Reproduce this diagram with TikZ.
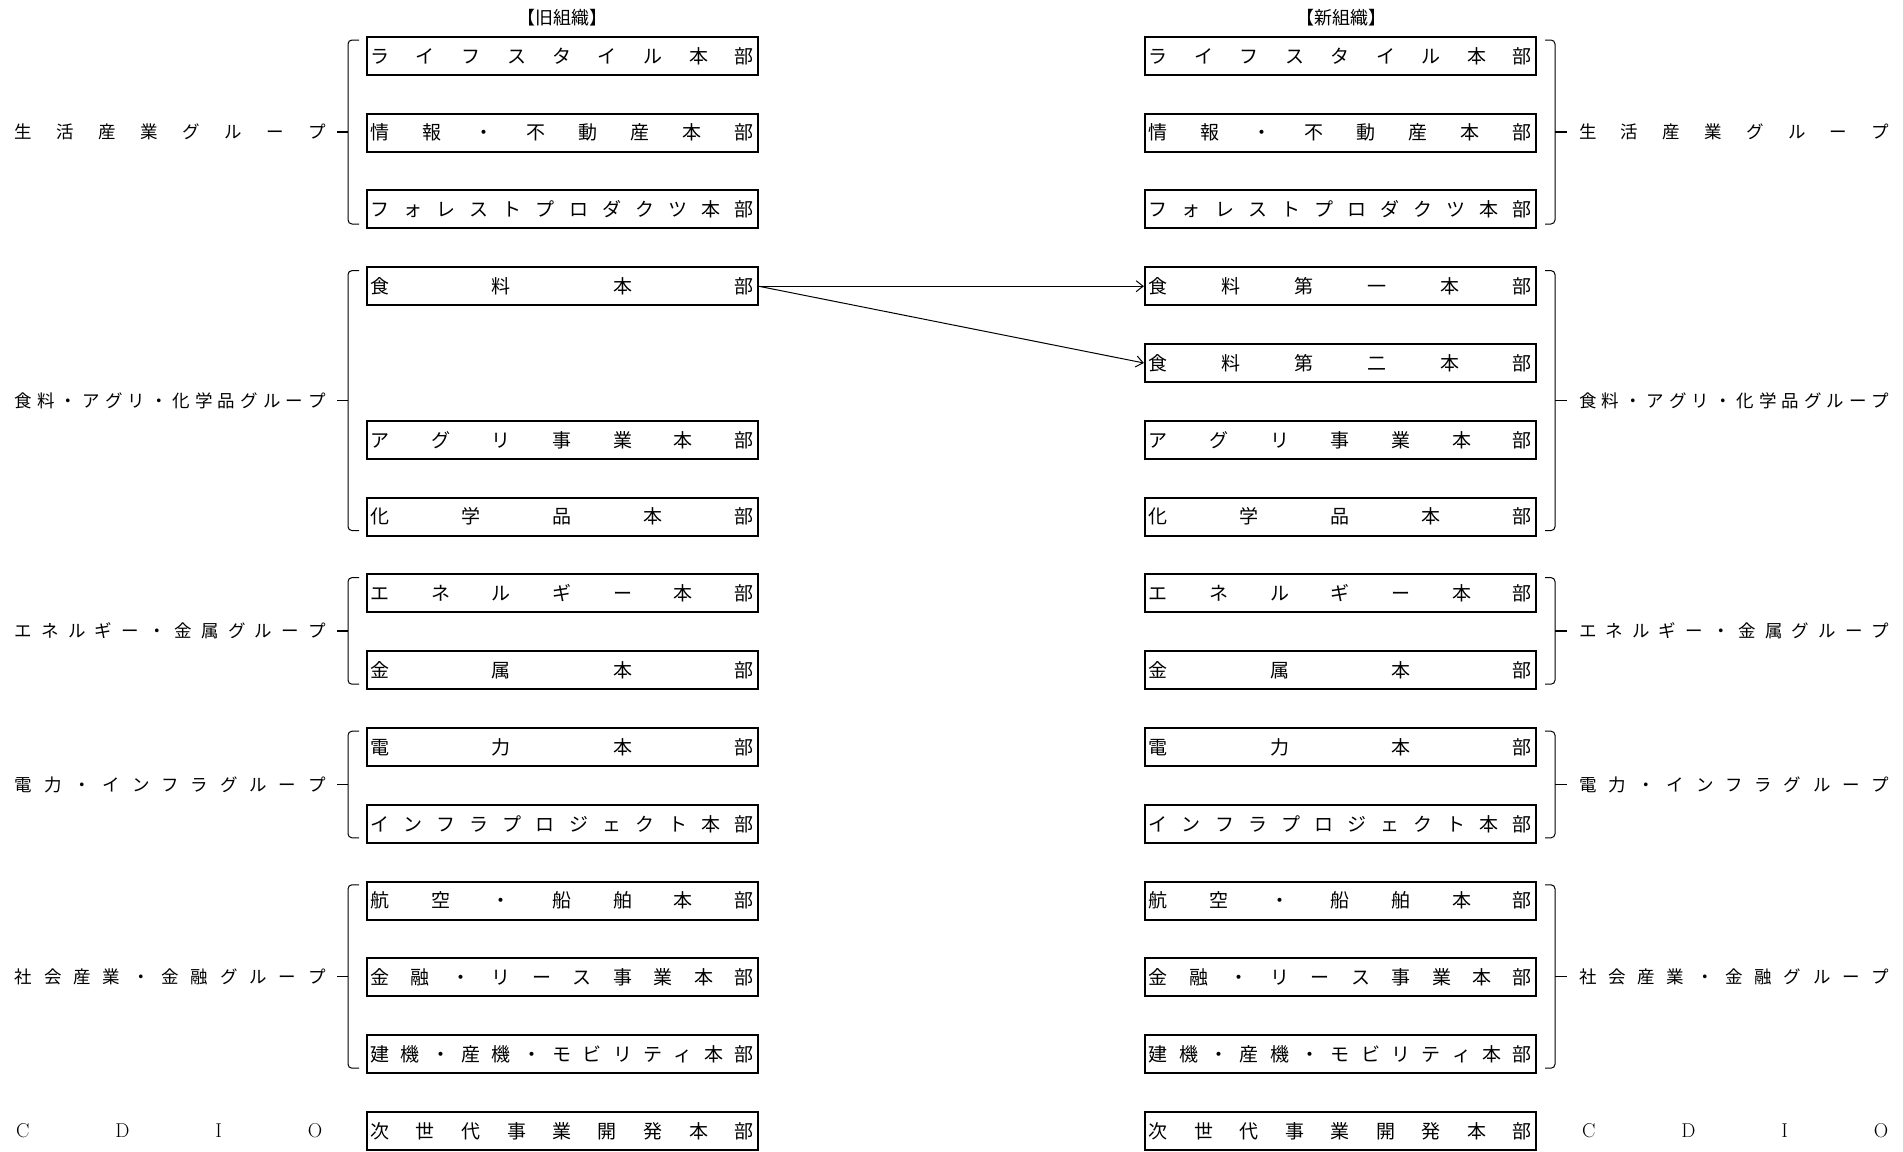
\documentclass[tikz,border=0pt]{standalone}
\usepackage{fontspec}
\newfontfamily\jp{Noto Sans CJK JP}
\usetikzlibrary{arrows.meta}
\makeatletter
\newcommand\spreadtxt[2]{\makebox[#1][s]{\let\spsep\relax\@tfor\spch:=#2\do{\spsep\spch\let\spsep\hfill}}}
\makeatother
\tikzset{
  unit/.style={draw, line width=2pt, minimum width=391pt, minimum height=38pt, inner sep=0pt,
    font=\jp\fontsize{19}{19}\selectfont},
  grp/.style={inner sep=0pt, anchor=west, font=\jp\fontsize{17.5}{17.5}\selectfont},
  brk/.style={line width=1pt, rounded corners=4pt},
  ttl/.style={inner sep=0pt, font=\jp\fontsize{18}{18}\selectfont},
  arr/.style={line width=1pt, -{Straight Barb[length=7pt,width=11pt]}}
}
\newcommand\grpL[2]{\draw[brk] (359,#1) -- (348,#1) -- (348,#2) -- (359,#2);
  \draw[line width=1.4pt] (348,{(#1+#2)/2}) -- (337,{(#1+#2)/2});}
\newcommand\grpR[2]{\draw[brk] (1545,#1) -- (1555,#1) -- (1555,#2) -- (1545,#2);
  \draw[line width=1.4pt] (1555,{(#1+#2)/2}) -- (1567,{(#1+#2)/2});}
\begin{document}
\begin{tikzpicture}[x=1pt,y=-1pt]
\useasboundingbox (0,0) rectangle (1903,1151);
% titles
\node[ttl] (t1) at (562,18) {【旧組織】};
\node[ttl] (t2) at (1341,18) {【新組織】};
% left boxes
\node[unit] (L1) at (562,55.8) {\spreadtxt{383pt}{ライフスタイル本部}};
\node[unit] (L2) at (562,132.6) {\spreadtxt{383pt}{情報・不動産本部}};
\node[unit] (L3) at (562,209.4) {\spreadtxt{383pt}{フォレストプロダクツ本部}};
\node[unit] (L4) at (562,286.2) {\spreadtxt{383pt}{食料本部}};
\node[unit] (L6) at (562,439.8) {\spreadtxt{383pt}{アグリ事業本部}};
\node[unit] (L7) at (562,516.6) {\spreadtxt{383pt}{化学品本部}};
\node[unit] (L8) at (562,593.4) {\spreadtxt{383pt}{エネルギー本部}};
\node[unit] (L9) at (562,670.2) {\spreadtxt{383pt}{金属本部}};
\node[unit] (L10) at (562,747.0) {\spreadtxt{383pt}{電力本部}};
\node[unit] (L11) at (562,823.8) {\spreadtxt{383pt}{インフラプロジェクト本部}};
\node[unit] (L12) at (562,900.6) {\spreadtxt{383pt}{航空・船舶本部}};
\node[unit] (L13) at (562,977.4) {\spreadtxt{383pt}{金融・リース事業本部}};
\node[unit] (L14) at (562,1054.2) {\spreadtxt{383pt}{建機・産機・モビリティ本部}};
\node[unit] (L15) at (562,1131.0) {\spreadtxt{383pt}{次世代事業開発本部}};
% right boxes
\node[unit] (R1) at (1340.4,55.8) {\spreadtxt{383pt}{ライフスタイル本部}};
\node[unit] (R2) at (1340.4,132.6) {\spreadtxt{383pt}{情報・不動産本部}};
\node[unit] (R3) at (1340.4,209.4) {\spreadtxt{383pt}{フォレストプロダクツ本部}};
\node[unit] (R4) at (1340.4,286.2) {\spreadtxt{383pt}{食料第一本部}};
\node[unit] (R5) at (1340.4,363.0) {\spreadtxt{383pt}{食料第二本部}};
\node[unit] (R6) at (1340.4,439.8) {\spreadtxt{383pt}{アグリ事業本部}};
\node[unit] (R7) at (1340.4,516.6) {\spreadtxt{383pt}{化学品本部}};
\node[unit] (R8) at (1340.4,593.4) {\spreadtxt{383pt}{エネルギー本部}};
\node[unit] (R9) at (1340.4,670.2) {\spreadtxt{383pt}{金属本部}};
\node[unit] (R10) at (1340.4,747.0) {\spreadtxt{383pt}{電力本部}};
\node[unit] (R11) at (1340.4,823.8) {\spreadtxt{383pt}{インフラプロジェクト本部}};
\node[unit] (R12) at (1340.4,900.6) {\spreadtxt{383pt}{航空・船舶本部}};
\node[unit] (R13) at (1340.4,977.4) {\spreadtxt{383pt}{金融・リース事業本部}};
\node[unit] (R14) at (1340.4,1054.2) {\spreadtxt{383pt}{建機・産機・モビリティ本部}};
\node[unit] (R15) at (1340.4,1131.0) {\spreadtxt{383pt}{次世代事業開発本部}};
% group labels left
\node[grp] (gl1) at (14.6,132) {\spreadtxt{311pt}{生活産業グループ}};
\node[grp] (gl2) at (14.6,400.6) {\spreadtxt{311pt}{食料・アグリ・化学品グループ}};
\node[grp] (gl3) at (14.6,631) {\spreadtxt{311pt}{エネルギー・金属グループ}};
\node[grp] (gl4) at (14.6,784.5) {\spreadtxt{311pt}{電力・インフラグループ}};
\node[grp] (gl5) at (14.6,976.5) {\spreadtxt{311pt}{社会産業・金融グループ}};
\node[grp,font=\rmfamily\fontsize{20}{20}\selectfont] (gl6) at (16,1131) {\spreadtxt{306pt}{CDIO}};
% group labels right
\node[grp] (gr1) at (1579,132) {\spreadtxt{310pt}{生活産業グループ}};
\node[grp] (gr2) at (1579,400.6) {\spreadtxt{310pt}{食料・アグリ・化学品グループ}};
\node[grp] (gr3) at (1579,631) {\spreadtxt{310pt}{エネルギー・金属グループ}};
\node[grp] (gr4) at (1579,784.5) {\spreadtxt{310pt}{電力・インフラグループ}};
\node[grp] (gr5) at (1579,976.5) {\spreadtxt{310pt}{社会産業・金融グループ}};
\node[grp,font=\rmfamily\fontsize{20}{20}\selectfont] (gr6) at (1582,1131) {\spreadtxt{306pt}{CDIO}};
% brackets
\grpL{40}{224}
\grpL{270.6}{530.6}
\grpL{577.6}{684.2}
\grpL{731.2}{837.8}
\grpL{884.8}{1068.2}
\grpR{40}{224}
\grpR{270.6}{530.6}
\grpR{577.6}{684.2}
\grpR{731.2}{837.8}
\grpR{884.8}{1068.2}
% arrows
\draw[arr] (L4.east) -- (R4.west);
\draw[arr] (L4.east) -- (R5.west);
\end{tikzpicture}
\end{document}
